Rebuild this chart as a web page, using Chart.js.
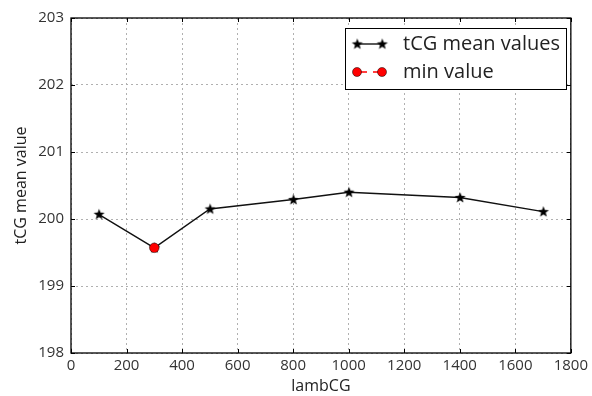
<!DOCTYPE html>
<html lang="en">
<head>
    <meta charset="UTF-8">
    <title>tCG mean values</title>
    <script src="https://cdn.jsdelivr.net/npm/chart.js"></script>
    <style>
        body {
            margin: 0;
            background-color: #ffffff;
        }

        .chart-box {
            width: 592px;
            height: 396px;
        }
    </style>
</head>
<body>
    <div class="chart-box">
        <canvas id="tcgChart" width="592" height="396"></canvas>
    </div>

    <script>
        // values
        const lambCG = [100, 300, 500, 800, 1000, 1400, 1700];
        const tcgMean = [200.07, 199.57, 200.15, 200.29, 200.40, 200.32, 200.11];
        const minLamb = [300];
        const minValue = [199.57];

        const xTicks = [0, 200, 400, 600, 800, 1000, 1200, 1400, 1600, 1800];
        const yTicks = [198, 199, 200, 201, 202, 203];

        const FONT = "'Open Sans', sans-serif";

        // filled five point star, like matplotlib's '*' marker
        function makeStar(outer, inner, color) {
            const c = document.createElement('canvas');
            const size = outer * 2 + 2;
            c.width = size;
            c.height = size;
            const ctx = c.getContext('2d');
            const cx = size / 2, cy = size / 2;
            ctx.beginPath();
            for (let i = 0; i < 10; i++) {
                const r = i % 2 === 0 ? outer : inner;
                const a = -Math.PI / 2 + i * Math.PI / 5;
                const px = cx + r * Math.cos(a);
                const py = cy + r * Math.sin(a);
                if (i === 0) ctx.moveTo(px, py); else ctx.lineTo(px, py);
            }
            ctx.closePath();
            ctx.fillStyle = color;
            ctx.fill();
            return c;
        }
        const star = makeStar(5.8, 2.4, '#000000');

        // frame, inward ticks on all four sides and the legend box
        const framePlugin = {
            id: 'frame',
            afterDatasetsDraw(chart) {
                const { ctx, chartArea: a, scales } = chart;
                ctx.save();
                ctx.strokeStyle = '#000000';
                ctx.lineWidth = 1.3;
                ctx.strokeRect(a.left, a.top, a.right - a.left, a.bottom - a.top);

                ctx.lineWidth = 1;
                ctx.beginPath();
                xTicks.forEach(v => {
                    const x = Math.round(scales.x.getPixelForValue(v)) + 0.5;
                    ctx.moveTo(x, a.bottom); ctx.lineTo(x, a.bottom - 4);
                    ctx.moveTo(x, a.top); ctx.lineTo(x, a.top + 4);
                });
                yTicks.forEach(v => {
                    const y = Math.round(scales.y.getPixelForValue(v)) + 0.5;
                    ctx.moveTo(a.left, y); ctx.lineTo(a.left + 4, y);
                    ctx.moveTo(a.right, y); ctx.lineTo(a.right - 4, y);
                });
                ctx.stroke();

                // legend
                const lx = 345, ly = 28, lw = 221, lh = 61;
                ctx.fillStyle = '#ffffff';
                ctx.fillRect(lx, ly, lw, lh);
                ctx.strokeStyle = '#000000';
                ctx.lineWidth = 1;
                ctx.strokeRect(lx + 0.5, ly + 0.5, lw, lh);

                const m1 = lx + 12, m2 = lx + 37;
                const r1 = ly + 16, r2 = ly + 44;
                ctx.beginPath();
                ctx.moveTo(m1, r1); ctx.lineTo(m2, r1);
                ctx.strokeStyle = '#000000';
                ctx.lineWidth = 1.3;
                ctx.stroke();
                ctx.drawImage(star, m1 - star.width / 2, r1 - star.height / 2);
                ctx.drawImage(star, m2 - star.width / 2, r1 - star.height / 2);

                ctx.beginPath();
                ctx.setLineDash([10, 6]);
                ctx.moveTo(m1, r2); ctx.lineTo(m2, r2);
                ctx.strokeStyle = '#ff0000';
                ctx.stroke();
                ctx.setLineDash([]);
                [m1, m2].forEach(mx => {
                    ctx.beginPath();
                    ctx.arc(mx, r2, 4.5, 0, Math.PI * 2);
                    ctx.fillStyle = '#ff0000';
                    ctx.fill();
                    ctx.strokeStyle = '#000000';
                    ctx.lineWidth = 0.5;
                    ctx.stroke();
                });

                ctx.fillStyle = '#222222';
                ctx.font = "20px " + FONT;
                ctx.textBaseline = 'middle';
                ctx.textAlign = 'left';
                ctx.fillText('tCG mean values', lx + 58, r1);
                ctx.fillText('min value', lx + 58, r2);
                ctx.restore();
            }
        };

        const ctx = document.getElementById('tcgChart').getContext('2d');
        new Chart(ctx, {
            type: 'scatter',
            data: {
                datasets: [{
                    label: 'tCG mean values',
                    data: lambCG.map((x, i) => ({ x: x, y: tcgMean[i] })),
                    showLine: true,
                    borderColor: '#111111',
                    borderWidth: 1.4,
                    pointStyle: star,
                    pointRadius: 5,
                    pointHoverRadius: 5,
                    order: 2
                }, {
                    label: 'min value',
                    data: minLamb.map((x, i) => ({ x: x, y: minValue[i] })),
                    showLine: false,
                    backgroundColor: '#ff0000',
                    borderColor: '#000000',
                    borderWidth: 0.5,
                    pointStyle: 'circle',
                    pointRadius: 4.8,
                    order: 1
                }]
            },
            options: {
                responsive: false,
                animation: false,
                layout: { padding: { top: 18, right: 17, left: 0, bottom: 0 } },
                plugins: {
                    legend: { display: false },
                    tooltip: { enabled: false }
                },
                scales: {
                    x: {
                        type: 'linear',
                        min: 0,
                        max: 1800,
                        afterBuildTicks: s => { s.ticks = xTicks.map(v => ({ value: v })); },
                        afterFit: s => { s.height = 43; },
                        grid: {
                            color: '#b0b0b0',
                            lineWidth: 1,
                            drawTicks: false
                        },
                        border: { display: false, dash: [2, 3] },
                        ticks: {
                            color: '#333333',
                            padding: 4,
                            callback: v => String(v),
                            font: { family: FONT, size: 15 }
                        },
                        title: {
                            display: true,
                            text: 'lambCG',
                            color: '#222222',
                            padding: { top: 0, bottom: 0 },
                            font: { family: FONT, size: 16 }
                        }
                    },
                    y: {
                        min: 198,
                        max: 203,
                        afterBuildTicks: s => { s.ticks = yTicks.map(v => ({ value: v })); },
                        afterFit: s => { s.width = 71; },
                        grid: {
                            color: '#b0b0b0',
                            lineWidth: 1,
                            drawTicks: false
                        },
                        border: { display: false, dash: [2, 3] },
                        ticks: {
                            color: '#333333',
                            padding: 7,
                            callback: v => String(v),
                            font: { family: FONT, size: 15 }
                        },
                        title: {
                            display: true,
                            text: 'tCG mean value',
                            color: '#222222',
                            padding: { top: 12, bottom: 0 },
                            font: { family: FONT, size: 16 }
                        }
                    }
                }
            },
            plugins: [framePlugin]
        });
    </script>
</body>
</html>
